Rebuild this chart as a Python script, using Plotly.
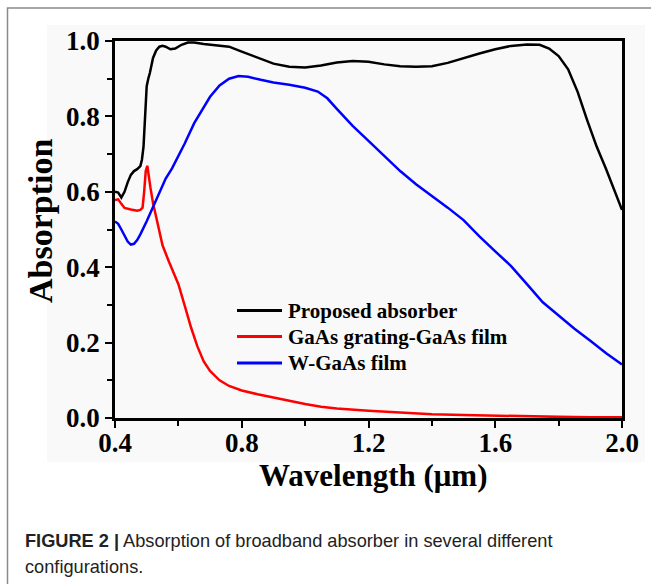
import plotly.graph_objects as go

# ---------------- data ----------------
wl_proposed = [0.40, 0.41, 0.42, 0.43, 0.44, 0.45, 0.46, 0.47, 0.48, 0.485, 0.49, 0.495,
               0.50, 0.505, 0.51, 0.52, 0.53, 0.54, 0.55, 0.56, 0.575, 0.59, 0.61, 0.63,
               0.65, 0.68, 0.72, 0.76, 0.80, 0.85, 0.90, 0.95, 1.00, 1.05, 1.10, 1.15,
               1.20, 1.25, 1.30, 1.35, 1.40, 1.45, 1.50, 1.55, 1.60, 1.65, 1.70, 1.74,
               1.77, 1.80, 1.83, 1.86, 1.89, 1.92, 1.95, 1.98, 2.00]
abs_proposed = [0.600, 0.598, 0.585, 0.600, 0.625, 0.645, 0.655, 0.660, 0.668, 0.685, 0.720, 0.800,
                0.880, 0.900, 0.915, 0.955, 0.975, 0.985, 0.987, 0.985, 0.978, 0.980, 0.990, 0.996,
                0.996, 0.992, 0.988, 0.985, 0.972, 0.955, 0.940, 0.932, 0.930, 0.935, 0.943, 0.947,
                0.945, 0.938, 0.933, 0.932, 0.933, 0.942, 0.955, 0.967, 0.978, 0.987, 0.991, 0.990,
                0.980, 0.960, 0.925, 0.865, 0.790, 0.720, 0.660, 0.595, 0.552]

wl_grating = [0.40, 0.41, 0.42, 0.43, 0.45, 0.47, 0.48, 0.487, 0.492, 0.497, 0.502, 0.507,
              0.512, 0.52, 0.53, 0.55, 0.57, 0.60, 0.62, 0.64, 0.66, 0.68, 0.70, 0.73,
              0.76, 0.80, 0.85, 0.90, 0.95, 1.00, 1.05, 1.10, 1.20, 1.30, 1.40, 1.50,
              1.60, 1.70, 1.80, 1.90, 2.00]
abs_grating = [0.578, 0.580, 0.568, 0.557, 0.553, 0.550, 0.552, 0.558, 0.600, 0.655, 0.669, 0.645,
               0.610, 0.570, 0.530, 0.458, 0.415, 0.355, 0.298, 0.240, 0.190, 0.150, 0.125, 0.100,
               0.085, 0.073, 0.063, 0.054, 0.045, 0.037, 0.030, 0.025, 0.019, 0.014, 0.010, 0.008,
               0.006, 0.004, 0.003, 0.002, 0.002]

wl_wfilm = [0.40, 0.41, 0.42, 0.43, 0.44, 0.45, 0.46, 0.47, 0.48, 0.50, 0.52, 0.54,
            0.56, 0.58, 0.60, 0.62, 0.65, 0.68, 0.70, 0.73, 0.76, 0.79, 0.82, 0.86,
            0.90, 0.95, 1.00, 1.04, 1.07, 1.10, 1.15, 1.20, 1.25, 1.30, 1.35, 1.40,
            1.45, 1.50, 1.55, 1.60, 1.65, 1.70, 1.75, 1.80, 1.85, 1.90, 1.95, 2.00]
abs_wfilm = [0.521, 0.515, 0.500, 0.482, 0.468, 0.460, 0.462, 0.472, 0.487, 0.522, 0.560, 0.600,
             0.635, 0.662, 0.693, 0.728, 0.782, 0.826, 0.852, 0.882, 0.900, 0.907, 0.905, 0.897,
             0.890, 0.884, 0.876, 0.866, 0.848, 0.820, 0.775, 0.735, 0.695, 0.655, 0.620, 0.590,
             0.558, 0.525, 0.482, 0.442, 0.403, 0.355, 0.307, 0.272, 0.237, 0.205, 0.172, 0.142]

series_names = ["Proposed absorber", "GaAs grating-GaAs film", "W-GaAs film"]
series_colors = ["#000000", "#ff0000", "#0000ff"]
x_ticks = [0.4, 0.8, 1.2, 1.6, 2.0]
y_ticks = [0.0, 0.2, 0.4, 0.6, 0.8, 1.0]
x_title = "Wavelength (μm)"
y_title = "Absorption"
caption_bold = "FIGURE 2 |"
caption_line1 = " Absorption of broadband absorber in several different"
caption_line2 = "configurations."

# ---------------- figure ----------------
SERIF = "Liberation Serif, Times New Roman, serif"
SANS = "Liberation Sans, Arial, Helvetica, sans-serif"

W, H = 651, 584
L, R, T, B = 115, 29, 41, 166
pw, ph = W - L - R, H - T - B


def px(xp):
    return (xp - L) / pw


def py(yp):
    return (H - B - yp) / ph


fig = go.Figure()
for wl, ab, name, col in zip([wl_proposed, wl_grating, wl_wfilm],
                             [abs_proposed, abs_grating, abs_wfilm],
                             series_names, series_colors):
    fig.add_trace(go.Scatter(x=wl, y=ab, mode="lines", name=name, showlegend=False,
                             line=dict(color=col, width=2.5)))

axis_common = dict(
    showline=True, linecolor="black", linewidth=2.5, mirror=True,
    ticks="outside", ticklen=7, tickwidth=2, tickcolor="black",
    showgrid=False, zeroline=False,
    tickfont=dict(family=SERIF, size=27, color="black", weight="bold"),
)

shapes = [
    # light grey picture background
    dict(type="rect", xref="paper", yref="paper", layer="below",
         x0=px(47), x1=px(645), y0=py(462), y1=py(25),
         fillcolor="#f9f9f9", line=dict(width=0)),
    # outer frame
    dict(type="rect", xref="paper", yref="paper", layer="above",
         x0=px(7.5), x1=px(700), y0=py(700), y1=py(8),
         fillcolor="rgba(0,0,0,0)", line=dict(color="#8a8a8a", width=1.5)),
]

annotations = [
    dict(xref="paper", yref="paper", x=px(373), y=py(476), xanchor="center", yanchor="middle",
         showarrow=False, text=f"<b>{x_title}</b>",
         font=dict(family=SERIF, size=31, color="black")),
    dict(xref="paper", yref="paper", x=px(40), y=py(221), xanchor="center", yanchor="middle",
         showarrow=False, textangle=-90, text=f"<b>{y_title}</b>",
         font=dict(family=SERIF, size=34, color="black")),
    dict(xref="paper", yref="paper", x=px(23), y=py(541), xanchor="left", yanchor="middle",
         showarrow=False, align="left",
         text=f"<b>{caption_bold}</b>{caption_line1}",
         font=dict(family=SANS, size=18.2, color="#222222")),
    dict(xref="paper", yref="paper", x=px(23), y=py(567), xanchor="left", yanchor="middle",
         showarrow=False, align="left", text=caption_line2,
         font=dict(family=SANS, size=18.2, color="#222222")),
]

# legend (drawn as line samples + labels)
legend_rows = [310.5, 336.5, 363]
for name, col, yrow in zip(series_names, series_colors, legend_rows):
    shapes.append(dict(type="line", xref="paper", yref="paper", layer="above",
                       x0=px(237), x1=px(282), y0=py(yrow), y1=py(yrow),
                       line=dict(color=col, width=3)))
    annotations.append(dict(xref="paper", yref="paper", x=px(286), y=py(yrow),
                            xanchor="left", yanchor="middle", showarrow=False,
                            text=f"<b>{name}</b>",
                            font=dict(family=SERIF, size=21, color="black")))

fig.update_layout(
    width=W, height=H,
    margin=dict(l=L, r=R, t=T, b=B),
    paper_bgcolor="white",
    plot_bgcolor="#f9f9f9",
    showlegend=False,
    xaxis=dict(
        range=[0.4, 2.0], tickvals=x_ticks, ticktext=[f"{v:.1f}" for v in x_ticks],
        ticklabelstandoff=-8,
        minor=dict(ticks="outside", ticklen=5, tickwidth=2, tickcolor="black", dtick=0.2, tick0=0.4),
        **axis_common,
    ),
    yaxis=dict(
        range=[0, 1.0], tickvals=y_ticks, ticktext=[f"{v:.1f}" for v in y_ticks],
        minor=dict(ticks="outside", ticklen=5, tickwidth=2, tickcolor="black", dtick=0.1, tick0=0),
        **axis_common,
    ),
    shapes=shapes,
    annotations=annotations,
)

fig.write_html("out.html", config={"displayModeBar": False},
               post_script="document.body.style.margin='0px';")
